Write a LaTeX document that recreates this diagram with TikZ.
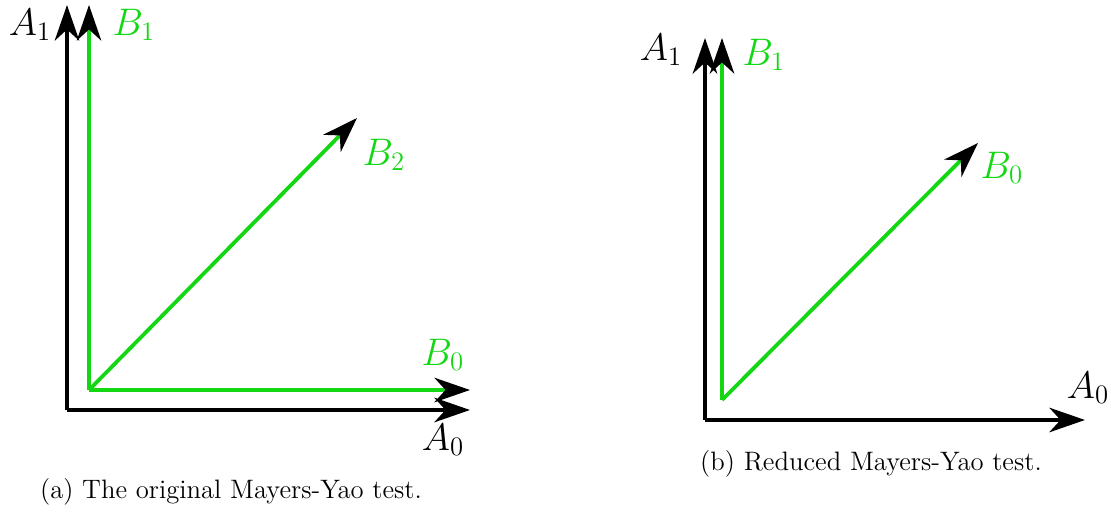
\documentclass[tikz,border=0pt]{standalone}
\usetikzlibrary{arrows.meta}
\definecolor{vecgreen}{RGB}{20,215,20}
\begin{document}
\begin{tikzpicture}[x=0.45pt, y=-0.45pt,
    axis/.style={line width=2pt, -{Stealth[black, length=16pt, width=11pt, inset=5pt]}},
    vec/.style={line width=1.7pt, vecgreen, -{Stealth[black, length=16pt, width=11pt, inset=5pt]}},
    lbl/.style={font=\fontsize{17}{20}\selectfont},
    glbl/.style={font=\fontsize{17}{20}\selectfont, text=vecgreen},
    captxt/.style={font=\fontsize{12}{14}\selectfont}]
    \useasboundingbox (0,0) rectangle (1111,514);
    % (a) original test
    \coordinate (oa) at (67,410);
    \coordinate (ga) at (89,390);
    \coordinate (a1a) at (67,5);
    \coordinate (a0a) at (470,410);
    \coordinate (b1a) at (89,5);
    \coordinate (b0a) at (470,390);
    \coordinate (b2a) at (357,118);
    \draw[axis] (oa) |- (a0a);
    \draw[axis] (oa) -- (a1a);
    \draw[vec] (ga) -- (b1a);
    \draw[vec] (ga) -- (b0a);
    \draw[vec] (ga) -- (b2a);
    \node[lbl] (la1a) at (30,25) {$A_1$};
    \node[glbl] (lb1a) at (134,25) {$B_1$};
    \node[glbl] (lb2a) at (384,155) {$B_2$};
    \node[glbl] (lb0a) at (443,355) {$B_0$};
    \node[lbl] (la0a) at (443,440) {$A_0$};
    \node[captxt] (capa) at (231,492) {(a) The original Mayers-Yao test.};
    % (b) reduced test
    \coordinate (ob) at (705,420);
    \coordinate (gb) at (722,400);
    \coordinate (a1b) at (705,38);
    \coordinate (a0b) at (1085,420);
    \coordinate (b1b) at (722,38);
    \coordinate (b0b) at (978,143);
    \draw[axis] (ob) -- (a0b);
    \draw[axis] (ob) -- (a1b);
    \draw[vec] (gb) -- (b1b);
    \draw[vec] (gb) -- (b0b);
    \node[lbl] (la1b) at (661,50) {$A_1$};
    \node[glbl] (lb1b) at (764,55) {$B_1$};
    \node[glbl] (lb0b) at (1002,168) {$B_0$};
    \node[lbl] (la0b) at (1088,388) {$A_0$};
    \node[captxt] (capb) at (871,464) {(b) Reduced Mayers-Yao test.};
\end{tikzpicture}
\end{document}
